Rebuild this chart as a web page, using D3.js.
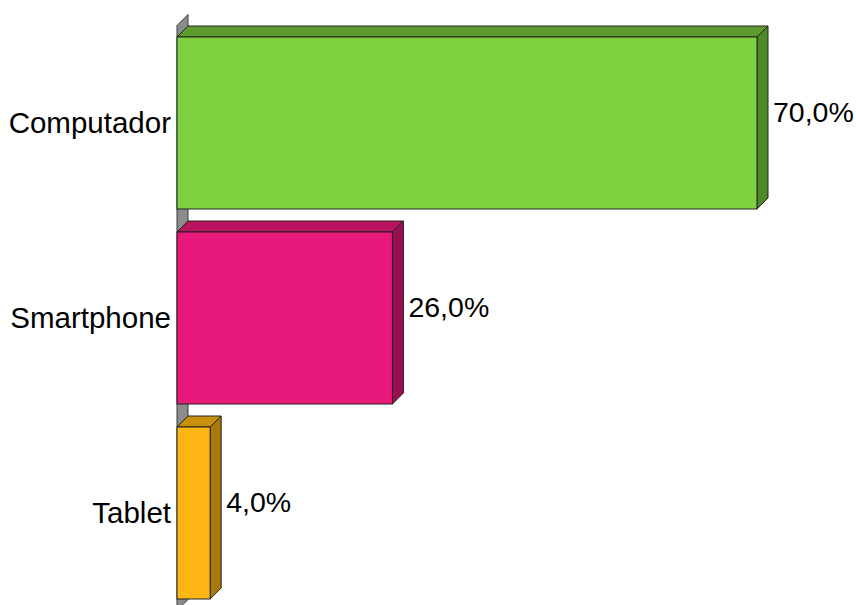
<!DOCTYPE html>
<html>
<head>
<meta charset="utf-8">
<script src="https://cdn.jsdelivr.net/npm/d3@7/dist/d3.min.js"></script>
<style>
  html, body { margin: 0; padding: 0; background: #fff; }
  svg { display: block; }
  text { font-family: "Liberation Sans", Arial, sans-serif; fill: #000; }
</style>
</head>
<body>
<svg id="chart" width="856" height="605"></svg>
<script>
// Device share by category (percent)
const categories = ["Computador", "Smartphone", "Tablet"];
const values = [70.0, 26.0, 4.0];
const frontColors = ["#7ed13f", "#e8197a", "#fdb614"];
const topColors = ["#5e9c2f", "#b8145f", "#c9900e"];
const sideColors = ["#4f8a26", "#9a0f51", "#a87a0b"];

const depth = 11;          // 3D extrusion offset
const plotLeft = 177, plotRight = 757;
const plotTop = 25.5, plotBottom = 610.5;

const svg = d3.select("#chart");

const x = d3.scaleLinear().domain([0, d3.max(values)]).range([plotLeft, plotRight]);
const y = d3.scaleBand().domain(categories).range([plotTop, plotBottom])
  .paddingInner(23 / 195).paddingOuter(23 / 390);

const fmt = v => d3.format(".1f")(v).replace(".", ",") + "%";
const pts = arr => arr.map(p => p.join(",")).join(" ");

// Back wall of the category axis
svg.append("polygon")
  .attr("points", pts([
    [plotLeft, plotTop], [plotLeft + depth, plotTop - depth],
    [plotLeft + depth, plotBottom - depth], [plotLeft, plotBottom]
  ]))
  .attr("fill", "#8c8c8c")
  .attr("stroke", "#3a3a3a")
  .attr("stroke-width", 1);

const data = categories.map((c, i) => ({ c, v: values[i], i }));

const g = svg.append("g");
data.forEach(d => {
  const x0 = x(0), x1 = x(d.v);
  const y0 = y(d.c), y1 = y(d.c) + y.bandwidth();
  const bar = g.append("g");
  // top face
  bar.append("polygon")
    .attr("points", pts([[x0, y0], [x0 + depth, y0 - depth], [x1 + depth, y0 - depth], [x1, y0]]))
    .attr("fill", topColors[d.i]).attr("stroke", "#222").attr("stroke-width", 1);
  // side face
  bar.append("polygon")
    .attr("points", pts([[x1, y0], [x1 + depth, y0 - depth], [x1 + depth, y1 - depth], [x1, y1]]))
    .attr("fill", sideColors[d.i]).attr("stroke", "#222").attr("stroke-width", 1);
  // front face
  bar.append("rect")
    .attr("x", x0).attr("y", y0)
    .attr("width", x1 - x0).attr("height", y1 - y0)
    .attr("fill", frontColors[d.i]).attr("stroke", "#222").attr("stroke-width", 1);
  // value label
  bar.append("text")
    .attr("x", x1 + depth + 5)
    .attr("y", (y0 + y1) / 2 - depth)
    .attr("dy", "0.35em")
    .attr("font-size", 28.5)
    .text(fmt(d.v));
});

// Category labels
svg.append("g").selectAll("text")
  .data(categories)
  .join("text")
  .attr("x", plotLeft - 6)
  .attr("y", c => y(c) + y.bandwidth() / 2)
  .attr("dy", "0.35em")
  .attr("text-anchor", "end")
  .attr("font-size", 29.5)
  .text(c => c);
</script>
</body>
</html>
